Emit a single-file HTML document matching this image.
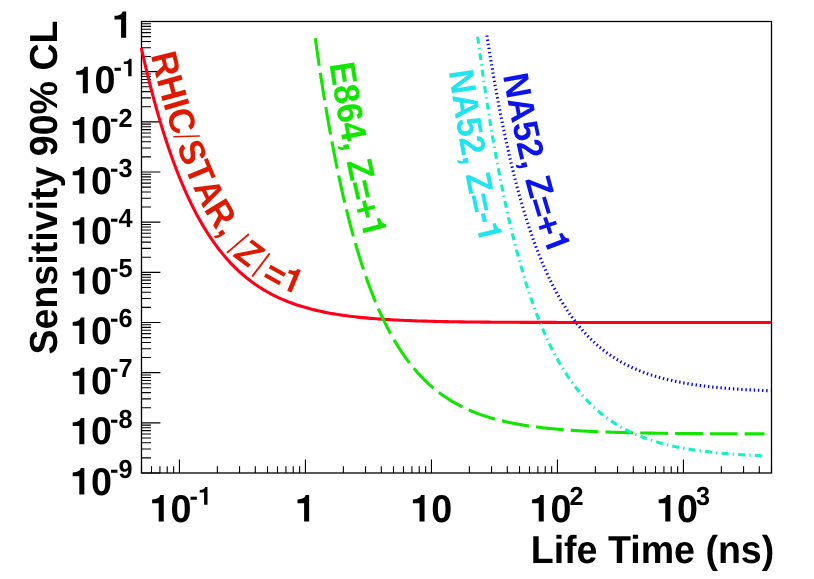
<!DOCTYPE html>
<html><head><meta charset="utf-8"><title>Sensitivity vs Life Time</title>
<style>html,body{margin:0;padding:0;background:#fff;}svg{display:block;will-change:transform;}text{text-rendering:geometricPrecision;-webkit-font-smoothing:antialiased;}</style></head>
<body>
<svg width="814" height="579" viewBox="0 0 814 579">
<rect x="0" y="0" width="814" height="579" fill="#fff"/>
<path d="M141.50 473.0V466.20M151.48 473.0V466.20M159.91 473.0V466.20M167.22 473.0V466.20M173.66 473.0V466.20M179.43 473.0V459.50M217.36 473.0V466.20M239.55 473.0V466.20M255.29 473.0V466.20M267.50 473.0V466.20M277.48 473.0V466.20M285.91 473.0V466.20M293.22 473.0V466.20M299.66 473.0V466.20M305.43 473.0V459.50M343.36 473.0V466.20M365.55 473.0V466.20M381.29 473.0V466.20M393.50 473.0V466.20M403.48 473.0V466.20M411.91 473.0V466.20M419.22 473.0V466.20M425.66 473.0V466.20M431.43 473.0V459.50M469.36 473.0V466.20M491.55 473.0V466.20M507.29 473.0V466.20M519.50 473.0V466.20M529.48 473.0V466.20M537.91 473.0V466.20M545.22 473.0V466.20M551.66 473.0V466.20M557.43 473.0V459.50M595.36 473.0V466.20M617.55 473.0V466.20M633.29 473.0V466.20M645.50 473.0V466.20M655.48 473.0V466.20M663.91 473.0V466.20M671.22 473.0V466.20M677.66 473.0V466.20M683.43 473.0V459.50M721.36 473.0V466.20M743.55 473.0V466.20M759.29 473.0V466.20M771.50 473.0V466.20M141.5 473.00H160.40M141.5 457.90H151.00M141.5 449.06H151.00M141.5 442.80H151.00M141.5 437.94H151.00M141.5 433.96H151.00M141.5 430.60H151.00M141.5 427.69H151.00M141.5 425.13H151.00M141.5 422.83H160.40M141.5 407.73H151.00M141.5 398.90H151.00M141.5 392.63H151.00M141.5 387.77H151.00M141.5 383.80H151.00M141.5 380.44H151.00M141.5 377.53H151.00M141.5 374.96H151.00M141.5 372.67H160.40M141.5 357.56H151.00M141.5 348.73H151.00M141.5 342.46H151.00M141.5 337.60H151.00M141.5 333.63H151.00M141.5 330.27H151.00M141.5 327.36H151.00M141.5 324.80H151.00M141.5 322.50H160.40M141.5 307.40H151.00M141.5 298.56H151.00M141.5 292.30H151.00M141.5 287.44H151.00M141.5 283.46H151.00M141.5 280.10H151.00M141.5 277.19H151.00M141.5 274.63H151.00M141.5 272.33H160.40M141.5 257.23H151.00M141.5 248.40H151.00M141.5 242.13H151.00M141.5 237.27H151.00M141.5 233.30H151.00M141.5 229.94H151.00M141.5 227.03H151.00M141.5 224.46H151.00M141.5 222.17H160.40M141.5 207.06H151.00M141.5 198.23H151.00M141.5 191.96H151.00M141.5 187.10H151.00M141.5 183.13H151.00M141.5 179.77H151.00M141.5 176.86H151.00M141.5 174.30H151.00M141.5 172.00H160.40M141.5 156.90H151.00M141.5 148.06H151.00M141.5 141.80H151.00M141.5 136.94H151.00M141.5 132.96H151.00M141.5 129.60H151.00M141.5 126.69H151.00M141.5 124.13H151.00M141.5 121.83H160.40M141.5 106.73H151.00M141.5 97.90H151.00M141.5 91.63H151.00M141.5 86.77H151.00M141.5 82.80H151.00M141.5 79.44H151.00M141.5 76.53H151.00M141.5 73.96H151.00M141.5 71.67H160.40M141.5 56.56H151.00M141.5 47.73H151.00M141.5 41.46H151.00M141.5 36.60H151.00M141.5 32.63H151.00M141.5 29.27H151.00M141.5 26.36H151.00M141.5 23.80H151.00M141.5 21.50H160.40" stroke="#000" stroke-width="1.1" fill="none"/>
<rect x="141.5" y="21.5" width="630.0" height="451.5" fill="none" stroke="#000" stroke-width="1.3"/>
<g font-family="'Liberation Sans', sans-serif" font-weight="bold" fill="#000">
<path transform="translate(149.50 521.50) scale(0.03770 -0.03770)" d="M244 0L378 0L378 700L283 700C268 630 215 590 69 583L69 486L244 486Z"/><text transform="translate(170.47 521.50) scale(1 1.03)" font-size="37.7">0</text><text transform="translate(189.50 504.70) scale(1 1.03)" font-size="25.3">-</text><path transform="translate(197.93 504.70) scale(0.02530 -0.02530)" d="M244 0L378 0L378 700L283 700C268 630 215 590 69 583L69 486L244 486Z"/>
<path transform="translate(294.90 521.50) scale(0.03770 -0.03770)" d="M244 0L378 0L378 700L283 700C268 630 215 590 69 583L69 486L244 486Z"/>
<path transform="translate(410.30 521.50) scale(0.03770 -0.03770)" d="M244 0L378 0L378 700L283 700C268 630 215 590 69 583L69 486L244 486Z"/><text transform="translate(431.27 521.50) scale(1 1.03)" font-size="37.7">0</text>
<path transform="translate(529.50 521.50) scale(0.03770 -0.03770)" d="M244 0L378 0L378 700L283 700C268 630 215 590 69 583L69 486L244 486Z"/><text transform="translate(550.47 521.50) scale(1 1.03)" font-size="37.7">0</text><text transform="translate(569.50 504.70) scale(1 1.03)" font-size="25.3">2</text>
<path transform="translate(656.10 521.50) scale(0.03770 -0.03770)" d="M244 0L378 0L378 700L283 700C268 630 215 590 69 583L69 486L244 486Z"/><text transform="translate(677.07 521.50) scale(1 1.03)" font-size="37.7">0</text><text transform="translate(696.10 504.70) scale(1 1.03)" font-size="25.3">3</text>
<path transform="translate(111.90 37.80) scale(0.03770 -0.03770)" d="M244 0L378 0L378 700L283 700C268 630 215 590 69 583L69 486L244 486Z"/>
<path transform="translate(73.60 93.17) scale(0.03770 -0.03770)" d="M244 0L378 0L378 700L283 700C268 630 215 590 69 583L69 486L244 486Z"/><text transform="translate(94.57 93.17) scale(1 1.03)" font-size="37.7">0</text><text transform="translate(113.60 76.37) scale(1 1.03)" font-size="25.3">-</text><path transform="translate(122.03 76.37) scale(0.02530 -0.02530)" d="M244 0L378 0L378 700L283 700C268 630 215 590 69 583L69 486L244 486Z"/>
<path transform="translate(70.10 143.33) scale(0.03770 -0.03770)" d="M244 0L378 0L378 700L283 700C268 630 215 590 69 583L69 486L244 486Z"/><text transform="translate(91.07 143.33) scale(1 1.03)" font-size="37.7">0</text><text transform="translate(110.10 126.53) scale(1 1.03)" font-size="25.3">-</text><text transform="translate(118.53 126.53) scale(1 1.03)" font-size="25.3">2</text>
<path transform="translate(70.10 193.50) scale(0.03770 -0.03770)" d="M244 0L378 0L378 700L283 700C268 630 215 590 69 583L69 486L244 486Z"/><text transform="translate(91.07 193.50) scale(1 1.03)" font-size="37.7">0</text><text transform="translate(110.10 176.70) scale(1 1.03)" font-size="25.3">-</text><text transform="translate(118.53 176.70) scale(1 1.03)" font-size="25.3">3</text>
<path transform="translate(70.10 243.67) scale(0.03770 -0.03770)" d="M244 0L378 0L378 700L283 700C268 630 215 590 69 583L69 486L244 486Z"/><text transform="translate(91.07 243.67) scale(1 1.03)" font-size="37.7">0</text><text transform="translate(110.10 226.87) scale(1 1.03)" font-size="25.3">-</text><text transform="translate(118.53 226.87) scale(1 1.03)" font-size="25.3">4</text>
<path transform="translate(70.10 293.83) scale(0.03770 -0.03770)" d="M244 0L378 0L378 700L283 700C268 630 215 590 69 583L69 486L244 486Z"/><text transform="translate(91.07 293.83) scale(1 1.03)" font-size="37.7">0</text><text transform="translate(110.10 277.03) scale(1 1.03)" font-size="25.3">-</text><text transform="translate(118.53 277.03) scale(1 1.03)" font-size="25.3">5</text>
<path transform="translate(70.10 344.00) scale(0.03770 -0.03770)" d="M244 0L378 0L378 700L283 700C268 630 215 590 69 583L69 486L244 486Z"/><text transform="translate(91.07 344.00) scale(1 1.03)" font-size="37.7">0</text><text transform="translate(110.10 327.20) scale(1 1.03)" font-size="25.3">-</text><text transform="translate(118.53 327.20) scale(1 1.03)" font-size="25.3">6</text>
<path transform="translate(70.10 394.17) scale(0.03770 -0.03770)" d="M244 0L378 0L378 700L283 700C268 630 215 590 69 583L69 486L244 486Z"/><text transform="translate(91.07 394.17) scale(1 1.03)" font-size="37.7">0</text><text transform="translate(110.10 377.37) scale(1 1.03)" font-size="25.3">-</text><text transform="translate(118.53 377.37) scale(1 1.03)" font-size="25.3">7</text>
<path transform="translate(70.10 444.33) scale(0.03770 -0.03770)" d="M244 0L378 0L378 700L283 700C268 630 215 590 69 583L69 486L244 486Z"/><text transform="translate(91.07 444.33) scale(1 1.03)" font-size="37.7">0</text><text transform="translate(110.10 427.53) scale(1 1.03)" font-size="25.3">-</text><text transform="translate(118.53 427.53) scale(1 1.03)" font-size="25.3">8</text>
<path transform="translate(70.10 494.50) scale(0.03770 -0.03770)" d="M244 0L378 0L378 700L283 700C268 630 215 590 69 583L69 486L244 486Z"/><text transform="translate(91.07 494.50) scale(1 1.03)" font-size="37.7">0</text><text transform="translate(110.10 477.70) scale(1 1.03)" font-size="25.3">-</text><text transform="translate(118.53 477.70) scale(1 1.03)" font-size="25.3">9</text>
<text transform="translate(774.3 562.7) scale(1 1.035)" font-size="37.6" text-anchor="end">Life Time (ns)</text>
<text transform="translate(56.9 354.6) rotate(-90) scale(1 1.04)" font-size="37.6">Sensitivity 90% CL</text>
</g>
<path d="M141.30 47.88L143.94 59.51L146.57 70.67L149.21 81.39L151.85 91.68L154.48 101.55L157.12 111.03L159.76 120.12L162.39 128.85L165.03 137.22L167.67 145.25L170.31 152.95L172.94 160.33L175.58 167.41L178.22 174.20L180.85 180.70L183.49 186.94L186.13 192.92L188.76 198.64L191.40 204.13L194.04 209.39L196.67 214.43L199.31 219.25L201.95 223.87L204.58 228.29L207.22 232.53L209.86 236.58L212.49 240.47L215.13 244.18L217.77 247.74L220.40 251.14L223.04 254.39L225.68 257.51L228.32 260.49L230.95 263.34L233.59 266.06L236.23 268.67L238.86 271.16L241.50 273.54L244.14 275.81L246.77 277.99L249.41 280.07L252.05 282.05L254.68 283.95L257.32 285.76L259.96 287.50L262.59 289.15L265.23 290.73L267.87 292.24L270.50 293.68L273.14 295.05L275.78 296.36L278.41 297.61L281.05 298.81L283.69 299.95L286.33 301.04L288.96 302.07L291.60 303.06L294.24 304.01L296.87 304.91L299.51 305.76L302.15 306.58L304.78 307.36L307.42 308.11L310.06 308.81L312.69 309.49L315.33 310.13L317.97 310.74L320.60 311.33L323.24 311.88L325.88 312.41L328.51 312.92L331.15 313.40L333.79 313.85L336.42 314.29L339.06 314.70L341.70 315.10L344.34 315.47L346.97 315.83L349.61 316.17L352.25 316.49L354.88 316.80L357.52 317.09L360.16 317.36L362.79 317.63L365.43 317.88L368.07 318.12L370.70 318.34L373.34 318.56L375.98 318.76L378.61 318.96L381.25 319.14L383.89 319.32L386.52 319.48L389.16 319.64L391.80 319.79L394.43 319.94L397.07 320.07L399.71 320.20L402.35 320.32L404.98 320.44L407.62 320.55L410.26 320.65L412.89 320.75L415.53 320.84L418.17 320.93L420.80 321.02L423.44 321.10L426.08 321.17L428.71 321.24L431.35 321.31L433.99 321.38L436.62 321.44L439.26 321.50L441.90 321.55L444.53 321.60L447.17 321.65L449.81 321.70L452.44 321.74L455.08 321.78L457.72 321.82L460.36 321.86L462.99 321.90L465.63 321.93L468.27 321.96L470.90 321.99L473.54 322.02L476.18 322.05L478.81 322.07L481.45 322.10L484.09 322.12L486.72 322.14L489.36 322.16L492.00 322.18L494.63 322.20L497.27 322.22L499.91 322.23L502.54 322.25L505.18 322.26L507.82 322.28L510.45 322.29L513.09 322.30L515.73 322.31L518.37 322.32L521.00 322.33L523.64 322.34L526.28 322.35L528.91 322.36L531.55 322.37L534.19 322.38L536.82 322.38L539.46 322.39L542.10 322.40L544.73 322.40L547.37 322.41L550.01 322.41L552.64 322.42L555.28 322.42L557.92 322.43L560.55 322.43L563.19 322.44L565.83 322.44L568.46 322.44L571.10 322.45L573.74 322.45L576.38 322.45L579.01 322.46L581.65 322.46L584.29 322.46L586.92 322.46L589.56 322.47L592.20 322.47L594.83 322.47L597.47 322.47L600.11 322.47L602.74 322.48L605.38 322.48L608.02 322.48L610.65 322.48L613.29 322.48L615.93 322.48L618.56 322.48L621.20 322.48L623.84 322.49L626.47 322.49L629.11 322.49L631.75 322.49L634.39 322.49L637.02 322.49L639.66 322.49L642.30 322.49L644.93 322.49L647.57 322.49L650.21 322.49L652.84 322.49L655.48 322.49L658.12 322.49L660.75 322.49L663.39 322.49L666.03 322.49L668.66 322.50L671.30 322.50L673.94 322.50L676.57 322.50L679.21 322.50L681.85 322.50L684.48 322.50L687.12 322.50L689.76 322.50L692.40 322.50L695.03 322.50L697.67 322.50L700.31 322.50L702.94 322.50L705.58 322.50L708.22 322.50L710.85 322.50L713.49 322.50L716.13 322.50L718.76 322.50L721.40 322.50L724.04 322.50L726.67 322.50L729.31 322.50L731.95 322.50L734.58 322.50L737.22 322.50L739.86 322.50L742.49 322.50L745.13 322.50L747.77 322.50L750.41 322.50L753.04 322.50L755.68 322.50L758.32 322.50L760.95 322.50L763.59 322.50L766.23 322.50L768.86 322.50L771.50 322.50" fill="none" stroke="#ff0018" stroke-width="3.1"/>
<path d="M315.30 38.29L317.18 51.62L319.06 64.50L320.94 76.94L322.82 88.97L324.70 100.59L326.58 111.82L328.46 122.67L330.34 133.15L332.22 143.29L334.09 153.08L335.97 162.54L337.85 171.68L339.73 180.52L341.61 189.05L343.49 197.30L345.37 205.27L347.25 212.98L349.13 220.42L351.01 227.61L352.89 234.57L354.77 241.28L356.65 247.77L358.53 254.05L360.41 260.11L362.29 265.96L364.17 271.62L366.05 277.09L367.93 282.38L369.81 287.48L371.68 292.42L373.56 297.19L375.44 301.79L377.32 306.25L379.20 310.55L381.08 314.71L382.96 318.72L384.84 322.61L386.72 326.36L388.60 329.98L390.48 333.49L392.36 336.87L394.24 340.14L396.12 343.30L398.00 346.36L399.88 349.31L401.76 352.16L403.64 354.92L405.52 357.58L407.40 360.16L409.27 362.64L411.15 365.05L413.03 367.37L414.91 369.61L416.79 371.78L418.67 373.88L420.55 375.90L422.43 377.86L424.31 379.75L426.19 381.58L428.07 383.34L429.95 385.05L431.83 386.70L433.71 388.29L435.59 389.83L437.47 391.32L439.35 392.76L441.23 394.14L443.11 395.49L444.99 396.78L446.86 398.04L448.74 399.25L450.62 400.42L452.50 401.55L454.38 402.64L456.26 403.70L458.14 404.72L460.02 405.71L461.90 406.66L463.78 407.58L465.66 408.47L467.54 409.33L469.42 410.16L471.30 410.96L473.18 411.74L475.06 412.49L476.94 413.21L478.82 413.91L480.70 414.59L482.58 415.24L484.45 415.88L486.33 416.49L488.21 417.08L490.09 417.65L491.97 418.20L493.85 418.73L495.73 419.24L497.61 419.74L499.49 420.22L501.37 420.68L503.25 421.13L505.13 421.57L507.01 421.98L508.89 422.39L510.77 422.78L512.65 423.16L514.53 423.52L516.41 423.88L518.29 424.22L520.17 424.55L522.04 424.87L523.92 425.17L525.80 425.47L527.68 425.76L529.56 426.04L531.44 426.30L533.32 426.56L535.20 426.81L537.08 427.06L538.96 427.29L540.84 427.51L542.72 427.73L544.60 427.94L546.48 428.15L548.36 428.35L550.24 428.54L552.12 428.72L554.00 428.90L555.88 429.07L557.76 429.24L559.63 429.40L561.51 429.55L563.39 429.70L565.27 429.85L567.15 429.99L569.03 430.12L570.91 430.25L572.79 430.38L574.67 430.50L576.55 430.62L578.43 430.73L580.31 430.84L582.19 430.95L584.07 431.05L585.95 431.15L587.83 431.25L589.71 431.34L591.59 431.43L593.47 431.52L595.35 431.60L597.22 431.68L599.10 431.76L600.98 431.83L602.86 431.91L604.74 431.98L606.62 432.04L608.50 432.11L610.38 432.17L612.26 432.24L614.14 432.30L616.02 432.35L617.90 432.41L619.78 432.46L621.66 432.51L623.54 432.56L625.42 432.61L627.30 432.66L629.18 432.70L631.06 432.75L632.94 432.79L634.81 432.83L636.69 432.87L638.57 432.91L640.45 432.94L642.33 432.98L644.21 433.01L646.09 433.05L647.97 433.08L649.85 433.11L651.73 433.14L653.61 433.17L655.49 433.20L657.37 433.22L659.25 433.25L661.13 433.28L663.01 433.30L664.89 433.32L666.77 433.35L668.65 433.37L670.53 433.39L672.40 433.41L674.28 433.43L676.16 433.45L678.04 433.47L679.92 433.49L681.80 433.50L683.68 433.52L685.56 433.54L687.44 433.55L689.32 433.57L691.20 433.58L693.08 433.60L694.96 433.61L696.84 433.62L698.72 433.64L700.60 433.65L702.48 433.66L704.36 433.67L706.24 433.68L708.12 433.69L709.99 433.70L711.87 433.71L713.75 433.72L715.63 433.73L717.51 433.74L719.39 433.75L721.27 433.76L723.15 433.77L725.03 433.77L726.91 433.78L728.79 433.79L730.67 433.80L732.55 433.80L734.43 433.81L736.31 433.82L738.19 433.82L740.07 433.83L741.95 433.83L743.83 433.84L745.71 433.85L747.58 433.85L749.46 433.86L751.34 433.86L753.22 433.86L755.10 433.87L756.98 433.87L758.86 433.88L760.74 433.88L762.62 433.89L764.50 433.89" fill="none" stroke="#12e600" stroke-width="3.1" stroke-dasharray="27.8 7.0"/>
<path d="M477.70 36.75L478.89 45.79L480.08 54.63L481.28 63.28L482.47 71.75L483.66 80.03L484.85 88.14L486.04 96.08L487.24 103.84L488.43 111.44L489.62 118.87L490.81 126.15L492.00 133.27L493.20 140.23L494.39 147.05L495.58 153.72L496.77 160.25L497.96 166.64L499.16 172.89L500.35 179.01L501.54 184.99L502.73 190.85L503.93 196.58L505.12 202.19L506.31 207.68L507.50 213.05L508.69 218.31L509.89 223.45L511.08 228.48L512.27 233.41L513.46 238.23L514.65 242.95L515.85 247.56L517.04 252.08L518.23 256.50L519.42 260.82L520.61 265.05L521.81 269.19L523.00 273.25L524.19 277.21L525.38 281.09L526.57 284.89L527.77 288.61L528.96 292.24L530.15 295.80L531.34 299.28L532.53 302.69L533.73 306.02L534.92 309.29L536.11 312.48L537.30 315.60L538.49 318.66L539.69 321.65L540.88 324.58L542.07 327.45L543.26 330.25L544.45 332.99L545.65 335.68L546.84 338.30L548.03 340.87L549.22 343.39L550.42 345.85L551.61 348.26L552.80 350.62L553.99 352.92L555.18 355.18L556.38 357.39L557.57 359.55L558.76 361.67L559.95 363.74L561.14 365.76L562.34 367.74L563.53 369.68L564.72 371.58L565.91 373.44L567.10 375.25L568.30 377.03L569.49 378.77L570.68 380.48L571.87 382.14L573.06 383.77L574.26 385.37L575.45 386.93L576.64 388.46L577.83 389.95L579.02 391.42L580.22 392.85L581.41 394.25L582.60 395.62L583.79 396.96L584.98 398.28L586.18 399.56L587.37 400.82L588.56 402.05L589.75 403.25L590.94 404.43L592.14 405.58L593.33 406.71L594.52 407.82L595.71 408.90L596.91 409.95L598.10 410.99L599.29 412.00L600.48 412.99L601.67 413.96L602.87 414.91L604.06 415.84L605.25 416.74L606.44 417.63L607.63 418.50L608.83 419.35L610.02 420.19L611.21 421.00L612.40 421.80L613.59 422.58L614.79 423.34L615.98 424.09L617.17 424.82L618.36 425.54L619.55 426.24L620.75 426.92L621.94 427.59L623.13 428.25L624.32 428.89L625.51 429.52L626.71 430.14L627.90 430.74L629.09 431.33L630.28 431.90L631.47 432.47L632.67 433.02L633.86 433.56L635.05 434.09L636.24 434.60L637.43 435.11L638.63 435.60L639.82 436.09L641.01 436.56L642.20 437.03L643.39 437.48L644.59 437.92L645.78 438.36L646.97 438.79L648.16 439.20L649.36 439.61L650.55 440.01L651.74 440.40L652.93 440.78L654.12 441.15L655.32 441.52L656.51 441.88L657.70 442.23L658.89 442.57L660.08 442.90L661.28 443.23L662.47 443.55L663.66 443.87L664.85 444.17L666.04 444.47L667.24 444.77L668.43 445.06L669.62 445.34L670.81 445.61L672.00 445.88L673.20 446.15L674.39 446.41L675.58 446.66L676.77 446.91L677.96 447.15L679.16 447.39L680.35 447.62L681.54 447.84L682.73 448.07L683.92 448.28L685.12 448.50L686.31 448.70L687.50 448.91L688.69 449.11L689.88 449.30L691.08 449.49L692.27 449.68L693.46 449.86L694.65 450.04L695.85 450.22L697.04 450.39L698.23 450.55L699.42 450.72L700.61 450.88L701.81 451.04L703.00 451.19L704.19 451.34L705.38 451.49L706.57 451.63L707.77 451.77L708.96 451.91L710.15 452.04L711.34 452.18L712.53 452.31L713.73 452.43L714.92 452.56L716.11 452.68L717.30 452.80L718.49 452.91L719.69 453.02L720.88 453.14L722.07 453.24L723.26 453.35L724.45 453.45L725.65 453.56L726.84 453.66L728.03 453.75L729.22 453.85L730.41 453.94L731.61 454.03L732.80 454.12L733.99 454.21L735.18 454.30L736.37 454.38L737.57 454.46L738.76 454.54L739.95 454.62L741.14 454.70L742.34 454.77L743.53 454.84L744.72 454.92L745.91 454.99L747.10 455.06L748.30 455.12L749.49 455.19L750.68 455.25L751.87 455.32L753.06 455.38L754.26 455.44L755.45 455.50L756.64 455.56L757.83 455.61L759.02 455.67L760.22 455.72L761.41 455.78L762.60 455.83" fill="none" stroke="#14f0c6" stroke-width="3.1" stroke-dasharray="6.94 4.16 1.39 4.16"/>
<path d="M486.90 35.40L488.09 43.06L489.27 50.55L490.46 57.88L491.65 65.06L492.83 72.08L494.02 78.95L495.21 85.67L496.39 92.25L497.58 98.69L498.77 104.99L499.95 111.15L501.14 117.18L502.33 123.09L503.51 128.87L504.70 134.52L505.89 140.05L507.07 145.47L508.26 150.76L509.45 155.95L510.63 161.02L511.82 165.99L513.01 170.85L514.19 175.60L515.38 180.25L516.57 184.81L517.75 189.26L518.94 193.62L520.13 197.89L521.31 202.06L522.50 206.15L523.68 210.15L524.87 214.06L526.06 217.89L527.24 221.63L528.43 225.30L529.62 228.89L530.80 232.40L531.99 235.84L533.18 239.20L534.36 242.49L535.55 245.71L536.74 248.86L537.92 251.94L539.11 254.96L540.30 257.91L541.48 260.80L542.67 263.63L543.86 266.40L545.04 269.10L546.23 271.75L547.42 274.35L548.60 276.88L549.79 279.37L550.98 281.80L552.16 284.17L553.35 286.50L554.54 288.78L555.72 291.01L556.91 293.19L558.10 295.32L559.28 297.41L560.47 299.45L561.66 301.45L562.84 303.41L564.03 305.32L565.22 307.20L566.40 309.03L567.59 310.83L568.78 312.58L569.96 314.30L571.15 315.98L572.34 317.63L573.52 319.24L574.71 320.81L575.90 322.35L577.08 323.86L578.27 325.34L579.46 326.79L580.64 328.20L581.83 329.58L583.02 330.94L584.20 332.26L585.39 333.56L586.58 334.83L587.76 336.07L588.95 337.29L590.14 338.47L591.32 339.64L592.51 340.78L593.69 341.89L594.88 342.98L596.07 344.05L597.25 345.09L598.44 346.12L599.63 347.12L600.81 348.09L602.00 349.05L603.19 349.99L604.37 350.91L605.56 351.80L606.75 352.68L607.93 353.54L609.12 354.38L610.31 355.20L611.49 356.01L612.68 356.80L613.87 357.57L615.05 358.32L616.24 359.06L617.43 359.78L618.61 360.49L619.80 361.18L620.99 361.86L622.17 362.52L623.36 363.17L624.55 363.81L625.73 364.43L626.92 365.04L628.11 365.63L629.29 366.21L630.48 366.78L631.67 367.34L632.85 367.89L634.04 368.42L635.23 368.94L636.41 369.45L637.60 369.95L638.79 370.44L639.97 370.92L641.16 371.39L642.35 371.85L643.53 372.30L644.72 372.74L645.91 373.17L647.09 373.59L648.28 374.00L649.47 374.40L650.65 374.79L651.84 375.18L653.03 375.56L654.21 375.93L655.40 376.29L656.59 376.64L657.77 376.99L658.96 377.33L660.15 377.66L661.33 377.98L662.52 378.30L663.71 378.61L664.89 378.91L666.08 379.21L667.26 379.50L668.45 379.79L669.64 380.07L670.82 380.34L672.01 380.61L673.20 380.87L674.38 381.12L675.57 381.37L676.76 381.62L677.94 381.86L679.13 382.09L680.32 382.32L681.50 382.55L682.69 382.77L683.88 382.98L685.06 383.19L686.25 383.40L687.44 383.60L688.62 383.80L689.81 383.99L691.00 384.18L692.18 384.36L693.37 384.54L694.56 384.72L695.74 384.89L696.93 385.06L698.12 385.23L699.30 385.39L700.49 385.55L701.68 385.70L702.86 385.86L704.05 386.00L705.24 386.15L706.42 386.29L707.61 386.43L708.80 386.57L709.98 386.70L711.17 386.83L712.36 386.96L713.54 387.09L714.73 387.21L715.92 387.33L717.10 387.44L718.29 387.56L719.48 387.67L720.66 387.78L721.85 387.89L723.04 387.99L724.22 388.10L725.41 388.20L726.60 388.30L727.78 388.39L728.97 388.49L730.16 388.58L731.34 388.67L732.53 388.76L733.72 388.85L734.90 388.93L736.09 389.01L737.27 389.09L738.46 389.17L739.65 389.25L740.83 389.33L742.02 389.40L743.21 389.47L744.39 389.55L745.58 389.62L746.77 389.68L747.95 389.75L749.14 389.82L750.33 389.88L751.51 389.94L752.70 390.00L753.89 390.06L755.07 390.12L756.26 390.18L757.45 390.24L758.63 390.29L759.82 390.34L761.01 390.40L762.19 390.45L763.38 390.50L764.57 390.55L765.75 390.60L766.94 390.64L768.13 390.69L769.31 390.73L770.50 390.78" fill="none" stroke="#0000ff" stroke-width="3.1" stroke-dasharray="1.39 2.78"/>
<g font-family="'Liberation Sans', sans-serif" fill="#dd1a00"><text transform="translate(153.64 67.12) rotate(76.26) scale(1 1.05)" x="-12.49" y="0.00" font-size="34.60" font-weight="bold">R</text><text transform="translate(159.92 91.30) rotate(74.60) scale(1 1.05)" x="-12.49" y="0.00" font-size="34.60" font-weight="bold">H</text><text transform="translate(164.60 107.96) rotate(74.00) scale(1 1.05)" x="-4.81" y="0.00" font-size="34.60" font-weight="bold">I</text><text transform="translate(169.62 124.51) rotate(72.73) scale(1 1.05)" x="-12.49" y="0.00" font-size="34.60" font-weight="bold">C</text><path transform="translate(175.00 140.96) rotate(68.36)" d="M-4.50 0.00L4.50 -24.91" stroke="#dd1a00" stroke-width="1.6" fill="none"/><text transform="translate(180.48 156.36) rotate(69.89) scale(1 1.05)" x="-11.54" y="0.00" font-size="34.60" font-weight="bold">S</text><text transform="translate(188.61 176.91) rotate(67.48) scale(1 1.05)" x="-10.57" y="0.00" font-size="34.60" font-weight="bold">T</text><text transform="translate(198.17 197.90) rotate(63.88) scale(1 1.05)" x="-12.49" y="0.00" font-size="34.60" font-weight="bold">A</text><text transform="translate(210.05 219.87) rotate(58.74) scale(1 1.05)" x="-12.49" y="0.00" font-size="34.60" font-weight="bold">R</text><text transform="translate(219.43 234.40) rotate(55.34) scale(1 1.05)" x="-4.81" y="0.00" font-size="34.60" font-weight="bold">,</text><path transform="translate(230.98 249.38) rotate(49.27)" d="M-0.00 5.35L0.00 -23.71" stroke="#dd1a00" stroke-width="1.9" fill="none"/><text transform="translate(242.61 261.71) rotate(36.85) scale(1 1.05)" x="-10.04" y="0.76" font-size="32.87" font-weight="normal" font-style="italic" stroke="#dd1a00" stroke-width="1.2">Z</text><path transform="translate(255.25 272.47) rotate(37.15)" d="M-0.00 5.15L0.00 -23.91" stroke="#dd1a00" stroke-width="1.9" fill="none"/><text transform="translate(270.61 282.59) rotate(29.28) scale(1 1.05)" x="-10.10" y="3.13" font-size="34.60" font-weight="bold">=</text><path transform="translate(288.32 291.26) rotate(22.41) translate(-9.62 0.00) scale(0.03460 -0.03460)" d="M244 0L378 0L378 700L283 700C268 630 215 590 69 583L69 486L244 486Z"/></g>
<g font-family="'Liberation Sans', sans-serif" fill="#12e600"><text transform="translate(331.31 75.32) rotate(81.27) scale(1 1.05)" x="-11.41" y="0.00" font-size="34.20" font-weight="bold">E</text><text transform="translate(334.59 95.98) rotate(80.81) scale(1 1.05)" x="-9.51" y="0.00" font-size="34.20" font-weight="bold">8</text><text transform="translate(337.74 114.74) rotate(80.17) scale(1 1.05)" x="-9.51" y="0.00" font-size="34.20" font-weight="bold">6</text><text transform="translate(341.07 133.46) rotate(79.49) scale(1 1.05)" x="-9.51" y="0.00" font-size="34.20" font-weight="bold">4</text><text transform="translate(343.71 147.48) rotate(79.13) scale(1 1.05)" x="-4.75" y="0.00" font-size="34.20" font-weight="bold">,</text><text transform="translate(348.59 171.69) rotate(77.99) scale(1 1.05)" x="-10.45" y="0.00" font-size="34.20" font-weight="bold">Z</text><text transform="translate(352.97 191.64) rotate(77.17) scale(1 1.05)" x="-9.99" y="3.09" font-size="34.20" font-weight="bold">=</text><text transform="translate(357.60 211.07) rotate(75.83) scale(1 1.05)" x="-9.99" y="3.09" font-size="34.20" font-weight="bold">+</text><path transform="translate(362.52 229.94) rotate(74.87) translate(-9.51 0.00) scale(0.03420 -0.03420)" d="M244 0L378 0L378 700L283 700C268 630 215 590 69 583L69 486L244 486Z"/></g>
<g font-family="'Liberation Sans', sans-serif" fill="#22e4ee"><text transform="translate(450.50 83.38) rotate(81.81) scale(1 1.05)" x="-12.17" y="0.00" font-size="33.70" font-weight="bold">N</text><text transform="translate(454.10 107.44) rotate(81.27) scale(1 1.05)" x="-12.17" y="0.00" font-size="33.70" font-weight="bold">A</text><text transform="translate(457.49 128.72) rotate(80.69) scale(1 1.05)" x="-9.37" y="0.00" font-size="33.70" font-weight="bold">5</text><text transform="translate(460.61 147.20) rotate(80.08) scale(1 1.05)" x="-9.37" y="0.00" font-size="33.70" font-weight="bold">2</text><text transform="translate(463.07 161.03) rotate(79.65) scale(1 1.05)" x="-4.68" y="0.00" font-size="33.70" font-weight="bold">,</text><text transform="translate(467.58 184.95) rotate(78.97) scale(1 1.05)" x="-10.29" y="0.00" font-size="33.70" font-weight="bold">Z</text><text transform="translate(471.60 204.67) rotate(78.00) scale(1 1.05)" x="-9.84" y="3.05" font-size="33.70" font-weight="bold">=</text><text transform="translate(474.88 219.77) rotate(77.49) scale(1 1.05)" x="-5.61" y="0.00" font-size="33.70" font-weight="bold">-</text><path transform="translate(478.25 234.37) rotate(76.68) translate(-9.37 0.00) scale(0.03370 -0.03370)" d="M244 0L378 0L378 700L283 700C268 630 215 590 69 583L69 486L244 486Z"/></g>
<g font-family="'Liberation Sans', sans-serif" fill="#0c14ee"><text transform="translate(505.30 87.54) rotate(79.78) scale(1 1.05)" x="-12.35" y="0.00" font-size="34.20" font-weight="bold">N</text><text transform="translate(509.87 111.82) rotate(78.87) scale(1 1.05)" x="-12.35" y="0.00" font-size="34.20" font-weight="bold">A</text><text transform="translate(514.24 133.23) rotate(77.89) scale(1 1.05)" x="-9.51" y="0.00" font-size="34.20" font-weight="bold">5</text><text transform="translate(518.35 151.81) rotate(77.11) scale(1 1.05)" x="-9.51" y="0.00" font-size="34.20" font-weight="bold">2</text><text transform="translate(521.63 165.68) rotate(76.28) scale(1 1.05)" x="-4.75" y="0.00" font-size="34.20" font-weight="bold">,</text><text transform="translate(527.79 189.60) rotate(74.78) scale(1 1.05)" x="-10.45" y="0.00" font-size="34.20" font-weight="bold">Z</text><text transform="translate(533.44 209.23) rotate(73.13) scale(1 1.05)" x="-9.99" y="3.09" font-size="34.20" font-weight="bold">=</text><text transform="translate(539.54 228.25) rotate(71.33) scale(1 1.05)" x="-9.99" y="3.09" font-size="34.20" font-weight="bold">+</text><path transform="translate(546.15 246.59) rotate(68.95) translate(-9.51 0.00) scale(0.03420 -0.03420)" d="M244 0L378 0L378 700L283 700C268 630 215 590 69 583L69 486L244 486Z"/></g>
</svg>
</body></html>
